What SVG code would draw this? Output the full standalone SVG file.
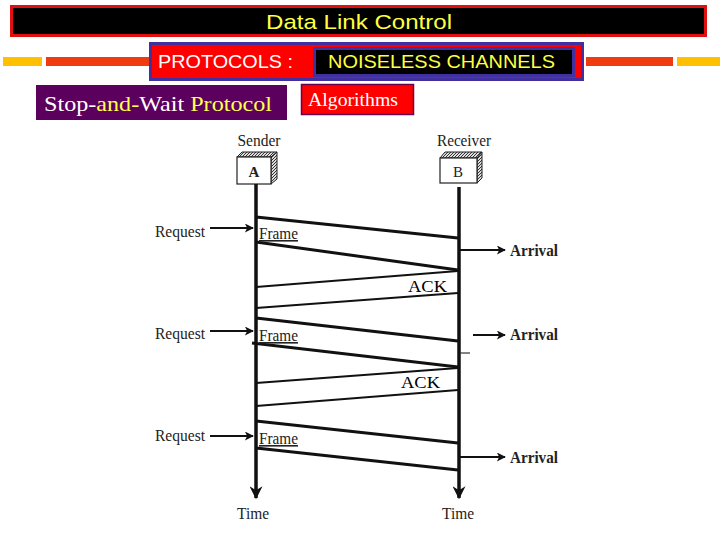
<svg xmlns="http://www.w3.org/2000/svg" width="720" height="540" viewBox="0 0 720 540">
<defs>
<marker id="ah" viewBox="0 0 10 10" refX="9" refY="5" markerWidth="12" markerHeight="9" markerUnits="userSpaceOnUse" orient="auto"><path d="M0,0 L10,5 L0,10 L2.5,5 Z" fill="#111"/></marker>
<marker id="tah" viewBox="0 0 10 10" refX="9" refY="5" markerWidth="14" markerHeight="13" markerUnits="userSpaceOnUse" orient="auto"><path d="M0,0 L10,5 L0,10 L3,5 Z" fill="#111"/></marker>
<pattern id="hatch" width="3" height="3" patternUnits="userSpaceOnUse"><rect width="3" height="3" fill="#ddd"/><path d="M0,3 L3,0" stroke="#333" stroke-width="1"/></pattern>
</defs>
<style>
.sans{font-family:"Liberation Sans",Arial,sans-serif}
.serif{font-family:"Liberation Serif","Times New Roman",serif}
.lbl{font-family:"Liberation Serif","Times New Roman",serif;fill:#222;font-size:16px}
.frm{stroke:#111;stroke-width:3;fill:none}
.ack{stroke:#111;stroke-width:2;fill:none}
.arr{stroke:#111;stroke-width:2;fill:none}
.life{stroke:#111;stroke-width:3.5;fill:none}
.box{fill:#fff;stroke:#222;stroke-width:1.2}
</style>
<rect width="720" height="540" fill="#fff"/>

<g id="title">
<rect x="11.5" y="6.5" width="694" height="29" fill="#000" stroke="#e01010" stroke-width="3"/>
<text x="359" y="29" class="sans" font-size="21" fill="#ffff40" text-anchor="middle" textLength="186" lengthAdjust="spacingAndGlyphs">Data Link Control</text>
</g>

<g id="rules">
<rect x="3" y="57" width="39" height="9" fill="#ffc000"/>
<rect x="46" y="57" width="104" height="9" fill="#f03a10"/>
<rect x="586" y="57" width="87" height="9" fill="#f03a10"/>
<rect x="677" y="57" width="43" height="9" fill="#ffc000"/>
</g>

<g id="protocols">
<rect x="150.5" y="43.5" width="432" height="36" fill="#ff0000" stroke="#4030a0" stroke-width="3"/>
<text x="158" y="68" class="sans" font-size="19" fill="#fff" textLength="135" lengthAdjust="spacingAndGlyphs">PROTOCOLS :</text>
</g>

<g id="noiseless">
<rect x="314.5" y="48.5" width="259" height="27" fill="#000" stroke="#4030a0" stroke-width="3"/>
<text x="328" y="68" class="sans" font-size="19" fill="#ffff40" textLength="227" lengthAdjust="spacingAndGlyphs">NOISELESS CHANNELS</text>
</g>

<g id="stopwait">
<rect x="36" y="85" width="251" height="35" fill="#5c005e"/>
<text x="44" y="111" class="serif" font-size="21" fill="#fff" textLength="228" lengthAdjust="spacingAndGlyphs">Stop-<tspan fill="#ffff50">and-</tspan>Wait <tspan fill="#ffff50">Protocol</tspan></text>
</g>

<g id="algorithms">
<rect x="301.5" y="84.5" width="112" height="30" fill="#ff0000" stroke="#6a0050" stroke-width="1.5"/>
<text x="308" y="106" class="serif" font-size="18" fill="#fff" textLength="90" lengthAdjust="spacingAndGlyphs">Algorithms</text>
</g>

<g id="sender">
<text x="259" y="146" class="lbl" text-anchor="middle" textLength="43" lengthAdjust="spacingAndGlyphs">Sender</text>
<path d="M237,157 L242,152 L277,152 L271,157 Z" fill="url(#hatch)" stroke="#222" stroke-width="1"/>
<path d="M271,157 L277,152 L277,179 L271,184 Z" fill="url(#hatch)" stroke="#222" stroke-width="1"/>
<rect x="237" y="157" width="34" height="27" class="box"/>
<text x="254" y="177" class="serif" font-size="15" font-weight="bold" fill="#222" text-anchor="middle">A</text>
</g>

<g id="receiver">
<text x="464" y="146" class="lbl" text-anchor="middle" textLength="54" lengthAdjust="spacingAndGlyphs">Receiver</text>
<path d="M440,158 L445,152 L482,152 L477,158 Z" fill="url(#hatch)" stroke="#222" stroke-width="1"/>
<path d="M477,158 L482,152 L482,178 L477,183 Z" fill="url(#hatch)" stroke="#222" stroke-width="1"/>
<rect x="440" y="158" width="37" height="25" class="box"/>
<text x="458" y="177" class="serif" font-size="15" fill="#222" text-anchor="middle">B</text>
</g>

<g id="connectors">
<line x1="256" y1="184" x2="256" y2="498" class="life" marker-end="url(#tah)"/>
<line x1="459" y1="187" x2="459" y2="498" class="life" marker-end="url(#tah)"/>

<line x1="210" y1="228" x2="253" y2="228" class="arr" marker-end="url(#ah)"/>
<line x1="210" y1="331" x2="253" y2="331" class="arr" marker-end="url(#ah)"/>
<line x1="210" y1="436" x2="253" y2="436" class="arr" marker-end="url(#ah)"/>

<line x1="460" y1="250" x2="505" y2="250" class="arr" marker-end="url(#ah)"/>
<line x1="473" y1="335" x2="505" y2="335" class="arr" marker-end="url(#ah)"/>
<line x1="460" y1="353" x2="470" y2="353" stroke="#333" stroke-width="1.2"/>
<line x1="460" y1="457" x2="505" y2="457" class="arr" marker-end="url(#ah)"/>

<line x1="256" y1="217" x2="458" y2="238" class="frm"/>
<line x1="256" y1="242" x2="458" y2="270" class="frm"/>
<line x1="458" y1="271" x2="256" y2="287" class="ack"/>
<line x1="458" y1="293" x2="256" y2="308" class="ack"/>

<line x1="256" y1="318" x2="458" y2="341" class="frm"/>
<line x1="252" y1="343" x2="458" y2="367" class="frm"/>
<line x1="458" y1="368" x2="256" y2="383" class="ack"/>
<line x1="458" y1="390" x2="256" y2="406" class="ack"/>

<line x1="256" y1="421" x2="458" y2="443" class="frm"/>
<line x1="256" y1="448" x2="458" y2="470" class="frm"/>
</g>

<g id="labels">
<text x="155" y="237" class="lbl" textLength="50" lengthAdjust="spacingAndGlyphs">Request</text>
<text x="155" y="339" class="lbl" textLength="50" lengthAdjust="spacingAndGlyphs">Request</text>
<text x="155" y="441" class="lbl" textLength="50" lengthAdjust="spacingAndGlyphs">Request</text>

<text x="259" y="239" class="lbl" textLength="39" lengthAdjust="spacingAndGlyphs" text-decoration="underline">Frame</text>
<text x="259" y="341" class="lbl" textLength="39" lengthAdjust="spacingAndGlyphs" text-decoration="underline">Frame</text>
<text x="259" y="444" class="lbl" textLength="39" lengthAdjust="spacingAndGlyphs" text-decoration="underline">Frame</text>

<text x="510" y="256" class="lbl" font-size="17" font-weight="bold" fill="#333" textLength="48" lengthAdjust="spacingAndGlyphs">Arrival</text>
<text x="510" y="340" class="lbl" font-size="17" font-weight="bold" fill="#333" textLength="48" lengthAdjust="spacingAndGlyphs">Arrival</text>
<text x="510" y="463" class="lbl" font-size="17" font-weight="bold" fill="#333" textLength="48" lengthAdjust="spacingAndGlyphs">Arrival</text>

<text x="408" y="292" class="serif" font-size="17" fill="#000" textLength="39" lengthAdjust="spacingAndGlyphs">ACK</text>
<text x="401" y="388" class="serif" font-size="17" fill="#000" textLength="39" lengthAdjust="spacingAndGlyphs">ACK</text>

<text x="253" y="519" class="lbl" font-size="17" text-anchor="middle" textLength="32" lengthAdjust="spacingAndGlyphs">Time</text>
<text x="458" y="519" class="lbl" font-size="17" text-anchor="middle" textLength="32" lengthAdjust="spacingAndGlyphs">Time</text>
</g>
</svg>
